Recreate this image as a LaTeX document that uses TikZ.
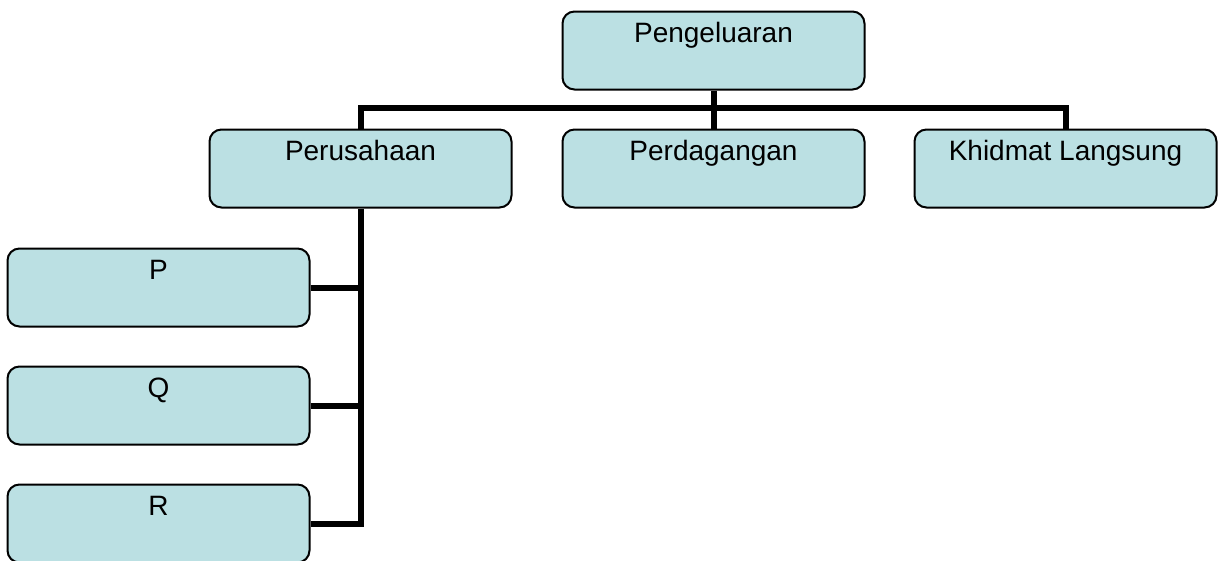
\documentclass[tikz,border=0pt]{standalone}
\usepackage{fontspec}
\setmainfont{Liberation Sans}
\begin{document}
\begin{tikzpicture}[x=1pt,y=-1pt,
  box/.style={draw=black,line width=2pt,fill=boxfill,rounded corners=12pt,
    minimum width=302pt,minimum height=78pt,inner sep=0pt},
  lbl/.style={anchor=base,inner sep=0pt,font=\fontsize{28}{32}\selectfont},
  conn/.style={line width=6pt}]
\definecolor{boxfill}{HTML}{BBE0E3}
\useasboundingbox (0,0) rectangle (1218,560);
\clip (0,0) rectangle (1218,560);
% connectors (behind boxes)
\coordinate (bar) at (713.5,108);
\coordinate (trunkend) at (360.5,522);
% boxes
\node[box] (peng) at (713.5,50.5) {};
\node[box] (peru) at (360.5,168.5) {};
\node[box] (perd) at (713.5,168.5) {};
\node[box] (khid) at (1065.5,168.5) {};
\node[box] (p) at (158.5,287.5) {};
\node[box] (q) at (158.5,405.5) {};
\node[box] (r) at (158.5,523.5) {};
% labels
\node[lbl] (tpeng) at ([yshift=-32pt]peng.north) {Pengeluaran};
\node[lbl] (tperu) at ([yshift=-32pt]peru.north) {Perusahaan};
\node[lbl] (tperd) at ([yshift=-32pt]perd.north) {Perdagangan};
\node[lbl] (tkhid) at ([yshift=-32pt]khid.north) {Khidmat Langsung};
\node[lbl] (tp) at ([yshift=-32pt]p.north) {P};
\node[lbl] (tq) at ([yshift=-32pt]q.north) {Q};
\node[lbl] (tr) at ([yshift=-32pt]r.north) {R};
% connectors
\draw[conn] (peng.south) -- (perd.north);
\draw[conn] (peru.north) |- (bar) -| (khid.north);
\draw[conn] (peru.south) -- (peru.south |- trunkend);
\draw[conn] (p.east) -| (peru.south);
\draw[conn] (q.east) -| (peru.south);
\draw[conn] (r.east) -| (peru.south);
\end{tikzpicture}
\end{document}
